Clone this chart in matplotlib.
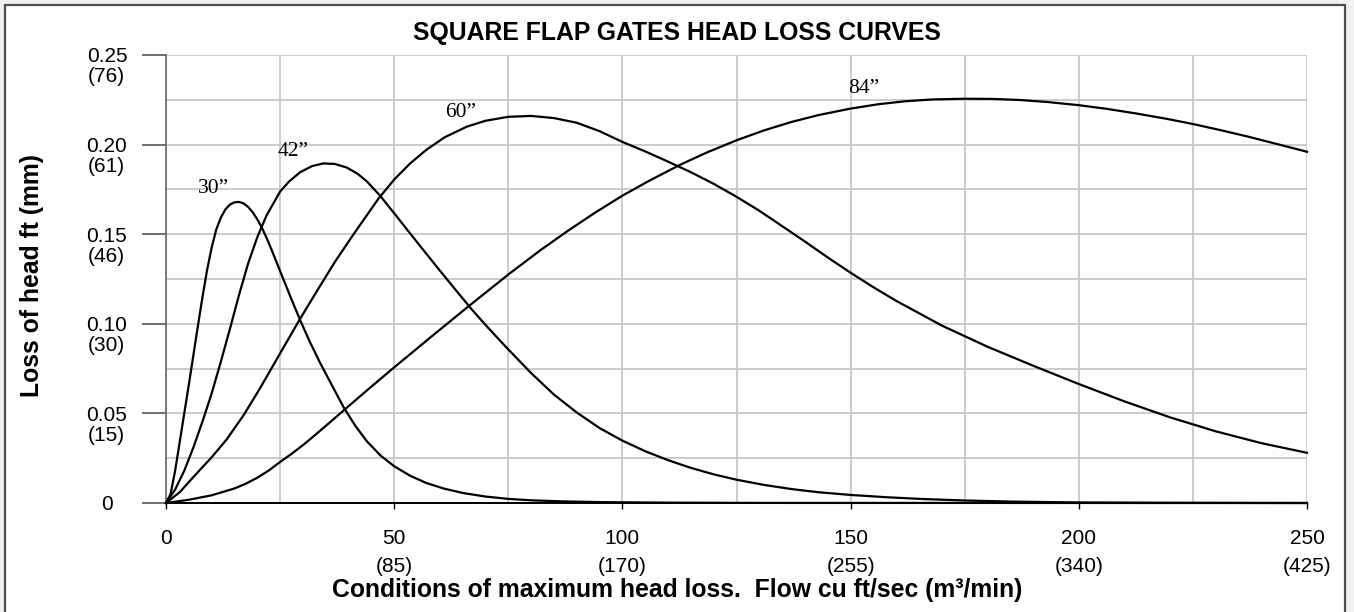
import matplotlib
matplotlib.use('Agg')
import matplotlib.pyplot as plt
from matplotlib.patches import Rectangle
import numpy as np

plt.rcParams['font.family'] = ['Liberation Sans', 'DejaVu Sans']

# curves (flow cu ft/sec, head loss ft)
x30 = [0, 1, 2, 3, 4, 5, 6, 7, 8, 9, 10, 11, 12, 13, 14, 15, 16, 17, 18, 19, 20, 21, 22.2,
       23.5, 25.7, 27.6, 29.4, 31.5, 33.8, 36.5, 38.9, 41.5, 44, 47, 50, 53.5, 57, 60.8, 65,
       70, 75, 80, 87, 95, 110, 130, 250]
y30 = [0, 0.005, 0.018, 0.034, 0.050, 0.066, 0.0825, 0.099, 0.115, 0.130, 0.1425, 0.1525,
       0.1592, 0.1638, 0.1665, 0.1678, 0.168, 0.1672, 0.1652, 0.1622, 0.1583, 0.1537, 0.147,
       0.139, 0.125, 0.113, 0.102, 0.090, 0.078, 0.065, 0.0535, 0.043, 0.0345, 0.0265, 0.0205,
       0.0152, 0.0112, 0.0081, 0.0056, 0.0036, 0.0023, 0.0015, 0.0009, 0.0005, 0.0002,
       0.00005, 0]

x42 = [0, 2, 4, 6, 8, 10, 12, 14, 16, 18, 20, 22, 25, 27, 29.4, 32, 34.5, 37, 39.6, 42, 44,
       46.9, 49.9, 53, 56.5, 60, 63.5, 67, 70.5, 74.7, 80, 85, 90, 95, 100, 105, 110, 115, 120,
       125, 131, 137, 143, 150, 158, 166, 175, 185, 200, 220, 250]
y42 = [0, 0.0075, 0.018, 0.031, 0.0455, 0.0611, 0.0787, 0.0971, 0.1161, 0.1337, 0.1483,
       0.1603, 0.1738, 0.1795, 0.1846, 0.188, 0.1895, 0.1892, 0.1872, 0.1837, 0.1795, 0.1715,
       0.162, 0.152, 0.1408, 0.1297, 0.1188, 0.108, 0.098, 0.0865, 0.0725, 0.0605, 0.0505,
       0.0418, 0.0348, 0.0289, 0.0239, 0.0196, 0.016, 0.013, 0.0101, 0.0078, 0.006, 0.0045,
       0.0032, 0.0022, 0.0014, 0.0008, 0.0003, 0.0001, 0]

x60 = [0, 3, 6, 10, 13.3, 17, 20.6, 25, 29.2, 33, 37, 41.1, 46.6, 50, 53.5, 57, 61, 65.9, 70,
       75, 80, 85, 90, 95, 100, 105, 110, 115, 120, 125, 130, 135, 140, 145, 150, 155, 160, 170,
       180, 190, 200, 210, 220, 230, 240, 250]
y60 = [0, 0.006, 0.0145, 0.0255, 0.0355, 0.049, 0.064, 0.0835, 0.102, 0.118, 0.1345, 0.150,
       0.170, 0.1805, 0.1895, 0.197, 0.204, 0.210, 0.2133, 0.2155, 0.216, 0.2148, 0.2122,
       0.2075, 0.2015, 0.1962, 0.1905, 0.1846, 0.1781, 0.1709, 0.1631, 0.1545, 0.1459, 0.1370,
       0.1285, 0.1204, 0.1128, 0.0990, 0.0872, 0.0766, 0.0664, 0.0567, 0.0478, 0.0400, 0.0334,
       0.0280]

x84 = [0, 5, 10, 15, 17.5, 20, 22.5, 25, 27.5, 30, 32, 35, 38.9, 44, 50, 58.6, 66.3, 75, 82,
       88, 94, 100, 106, 112.7, 118.5, 125, 131, 137, 143, 150, 156, 162, 168, 175, 181, 187,
       193, 200, 206, 212.5, 219, 225, 231, 237, 243, 250]
y84 = [0, 0.0018, 0.0043, 0.0081, 0.0108, 0.0141, 0.0181, 0.0229, 0.0274, 0.0323, 0.0365,
       0.043, 0.0516, 0.0628, 0.0757, 0.0938, 0.1098, 0.1275, 0.141, 0.1518, 0.162, 0.1715,
       0.180, 0.1888, 0.1956, 0.2024, 0.2079, 0.2126, 0.2165, 0.2201, 0.2225, 0.2242, 0.2252,
       0.2256, 0.2255, 0.2249, 0.2238, 0.222, 0.220, 0.2174, 0.2145, 0.2115, 0.2081, 0.2045,
       0.2006, 0.196]

curve_names = ['30\u201d', '42\u201d', '60\u201d', '84\u201d']
label_x = [10.5, 27.9, 64.5, 152.9]
label_y = [0.1753, 0.196, 0.2178, 0.2314]

x_ticks = [0, 50, 100, 150, 200, 250]
x_labels_m3 = ['', '(85)', '(170)', '(255)', '(340)', '(425)']
y_ticks = [0, 0.05, 0.10, 0.15, 0.20, 0.25]
y_labels_ft = ['0', '0.05', '0.10', '0.15', '0.20', '0.25']
y_labels_mm = ['', '(15)', '(30)', '(46)', '(61)', '(76)']

fig = plt.figure(figsize=(13.54, 6.12), dpi=100, facecolor='#f2f2f2')
fig.patches.append(Rectangle((5 / 1354, -0.05), 1340 / 1354, (607 / 612) + 0.05,
                             transform=fig.transFigure, facecolor='white',
                             edgecolor='#505050', linewidth=1.6, zorder=-10))

ax = fig.add_axes([166 / 1354, 109 / 612, 1141 / 1354, 448 / 612])
ax.set_facecolor('white')

for xs, ys in [(x30, y30), (x42, y42), (x60, y60), (x84, y84)]:
    ax.plot(xs, ys, color='black', lw=1.6, zorder=3, clip_on=False,
            solid_joinstyle='round')

for name, lx, ly in zip(curve_names, label_x, label_y):
    ax.text(lx, ly, name, family='Liberation Serif', fontsize=15.5, ha='center', va='center')

ax.set_xlim(0, 250)
ax.set_ylim(0, 0.25)

ax.set_xticks(x_ticks, labels=[str(v) for v in x_ticks])
ax.set_xticks(np.arange(0, 251, 25), minor=True)
ax.set_yticks(y_ticks, labels=y_labels_ft, ha='center')
ax.set_yticks(np.arange(0, 0.2501, 0.025), minor=True)
ax.grid(True, which='both', color='#c8c8c8', lw=1.3, zorder=0)

ax.tick_params(axis='x', which='major', direction='out', length=4.5, width=1,
               color='black', labelsize=15, pad=14)
ax.tick_params(axis='y', which='major', direction='out', length=17.5, width=1.2,
               color='#555555', labelsize=15, pad=25)
ax.tick_params(which='minor', length=0)

for s in ['top', 'right']:
    ax.spines[s].set_visible(False)
ax.spines['left'].set_color('#666666')
ax.spines['left'].set_linewidth(1.2)
ax.spines['bottom'].set_color('black')
ax.spines['bottom'].set_linewidth(1.4)

for xv, lab in zip(x_ticks, x_labels_m3):
    ax.annotate(lab, xy=(xv, 0), xycoords=('data', 'axes fraction'), xytext=(0, -64),
                textcoords='offset pixels', ha='center', va='center', fontsize=15,
                annotation_clip=False)
for yv, lab in zip(y_ticks, y_labels_mm):
    ax.annotate(lab, xy=(0, yv), xycoords=('axes fraction', 'data'), xytext=(-60, -22),
                textcoords='offset pixels', ha='center', va='center', fontsize=15,
                annotation_clip=False)

fig.text(677 / 1354, 1 - 33 / 612, 'SQUARE FLAP GATES HEAD LOSS CURVES',
         ha='center', va='center', fontsize=17.8, fontweight='bold')
fig.text(32 / 1354, 1 - 276 / 612, 'Loss of head ft (mm)', rotation=90,
         ha='center', va='center', fontsize=17.8, fontweight='bold')
fig.text(677 / 1354, 1 - 590 / 612,
         'Conditions of maximum head loss.  Flow cu ft/sec (m\u00b3/min)',
         ha='center', va='center', fontsize=17.8, fontweight='bold')

fig.savefig('out.png', dpi=100, facecolor=fig.get_facecolor())
